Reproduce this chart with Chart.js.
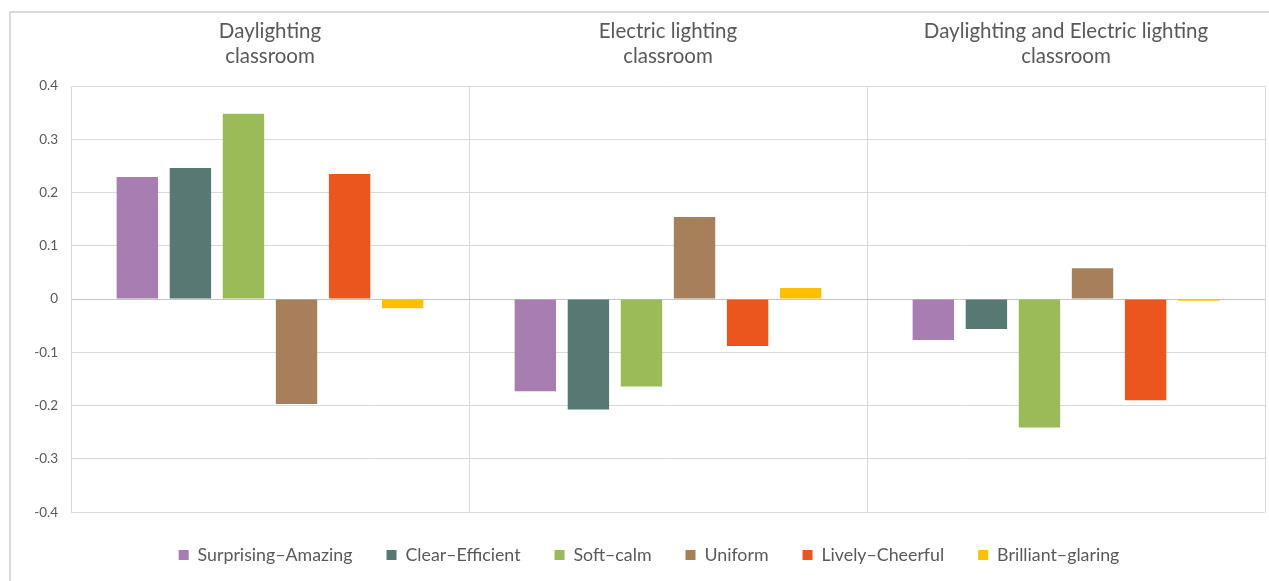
<!DOCTYPE html>
<html>
<head>
<meta charset="utf-8">
<script src="https://cdn.jsdelivr.net/npm/chart.js@4/dist/chart.umd.min.js"></script>
<style>
  html, body { margin: 0; padding: 0; background: #fff; }
  #wrap { position: relative; width: 1269px; height: 581px; }
</style>
</head>
<body>
<div id="wrap"><canvas id="chartCanvas" width="1269" height="581"></canvas></div>
<script>
// classroom types (drawn as two-line headings above each group)
const classrooms = [
  ['Daylighting', 'classroom'],
  ['Electric lighting', 'classroom'],
  ['Daylighting and Electric lighting', 'classroom']
];

// mean scores per impression pair, one value per classroom
const surprisingAmazing = [0.229, -0.173, -0.077];
const clearEfficient    = [0.246, -0.207, -0.056];
const softCalm          = [0.348, -0.164, -0.241];
const uniform           = [-0.197, 0.154, 0.058];
const livelyCheerful    = [0.235, -0.088, -0.190];
const brilliantGlaring  = [-0.017, 0.021, -0.003];

const seriesNames  = ['Surprising\u2013Amazing', 'Clear\u2013Efficient', 'Soft\u2013calm', 'Uniform', 'Lively\u2013Cheerful', 'Brilliant\u2013glaring'];
const seriesValues = [surprisingAmazing, clearEfficient, softCalm, uniform, livelyCheerful, brilliantGlaring];
const seriesColors = ['#a87db2', '#587874', '#9bbb59', '#a5805a', '#eb561e', '#ffc000'];

const yTicks = [-0.4, -0.3, -0.2, -0.1, 0, 0.1, 0.2, 0.3, 0.4];

const FONT = 'Lato, "Liberation Sans", sans-serif';
const GRID = '#d9d9d9';
const TEXT = '#595959';

// light frame around the whole chart
const framePlugin = {
  id: 'frame',
  beforeDraw(chart) {
    const c = chart.ctx;
    c.save();
    c.strokeStyle = GRID;
    c.lineWidth = 2;
    c.strokeRect(10, 12, chart.width + 20, chart.height + 20);
    c.restore();
  }
};

const data = {
  labels: classrooms,
  datasets: seriesNames.map((name, i) => ({
    label: name,
    data: seriesValues[i],
    backgroundColor: seriesColors[i],
    borderWidth: 0,
    categoryPercentage: 0.8,
    barPercentage: 0.78
  }))
};

const ctx = document.getElementById('chartCanvas').getContext('2d');
const myChart = new Chart(ctx, {
  type: 'bar',
  data: data,
  plugins: [framePlugin],
  options: {
    responsive: false,
    animation: false,
    layout: { padding: { left: 33, right: 4, top: 0, bottom: 7 } },
    plugins: {
      tooltip: { enabled: false },
      legend: {
        position: 'bottom',
        labels: {
          boxWidth: 10,
          boxHeight: 10,
          padding: 34,
          color: TEXT,
          font: { family: FONT, size: 17.8 }
        }
      }
    },
    scales: {
      x: {
        position: 'top',
        grid: { color: GRID, offset: true, drawTicks: false },
        border: { color: GRID },
        ticks: {
          color: TEXT,
          font: { family: FONT, size: 20.5, lineHeight: 1.22 },
          maxRotation: 0,
          autoSkip: false,
          padding: 17.5
        },
        afterFit(scale) { scale.height = 86; }
      },
      y: {
        min: -0.4,
        max: 0.4,
        afterBuildTicks(scale) { scale.ticks = yTicks.map(v => ({ value: v })); },
        grid: {
          color: c => (c.tick && c.tick.value === 0 ? '#c4c4c4' : GRID),
          drawTicks: false
        },
        border: { color: GRID },
        ticks: {
          color: TEXT,
          font: { family: FONT, size: 13.5 },
          padding: 13,
          callback: v => String(Number(v.toFixed(1)))
        },
        afterFit(scale) { scale.width = 38; }
      }
    }
  }
});
</script>
</body>
</html>
